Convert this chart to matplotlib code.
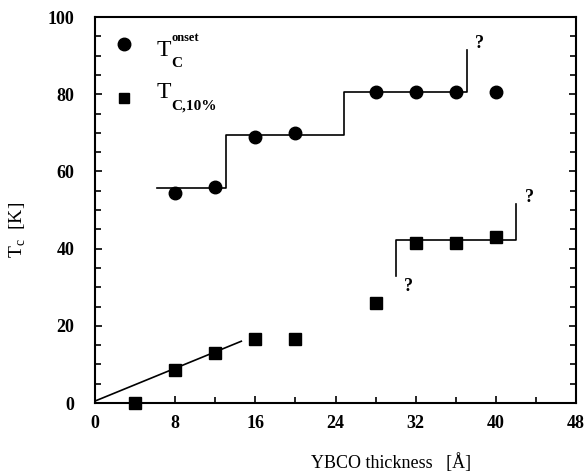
import matplotlib
matplotlib.use("Agg")
import matplotlib.pyplot as plt
from matplotlib.ticker import MultipleLocator

# Data
onset_x = [8, 12, 16, 20, 28, 32, 36, 40]
onset_y = [54.5, 56, 69, 70, 80.5, 80.5, 80.5, 80.5]
t10_x = [4, 8, 12, 16, 20, 28, 32, 36, 40]
t10_y = [0, 8.5, 13, 16.5, 16.5, 26, 41.5, 41.5, 43]

# guide lines
step1_x = [6.2, 13.1, 13.1, 24.8, 24.8, 37.1, 37.1]
step1_y = [55.6, 55.6, 69.5, 69.5, 80.5, 80.5, 91.5]
step2_x = [30.0, 30.0, 42.0, 42.0]
step2_y = [33.0, 42.2, 42.2, 51.5]
lin_x = [0, 14.6]
lin_y = [0.5, 16.0]

serif = "Liberation Serif"

fig = plt.figure(figsize=(5.85, 4.76), dpi=100)
ax = fig.add_axes([95/585, 1-403/476, (576-95)/585, (403-17)/476])

ax.plot(step1_x, step1_y, color="black", lw=1.2)
ax.plot(step2_x, step2_y, color="black", lw=1.2)
ax.plot(lin_x, lin_y, color="black", lw=1.2)
ax.plot(onset_x, onset_y, "o", color="black", ms=9, clip_on=False)
ax.plot(t10_x, t10_y, "s", color="black", ms=8, clip_on=False)

ax.text(38.4, 91.0, "?", fontfamily=serif, fontweight="bold", fontsize=13, ha="center", va="bottom")
ax.text(43.4, 51.0, "?", fontfamily=serif, fontweight="bold", fontsize=13, ha="center", va="bottom")
ax.text(31.3, 28.0, "?", fontfamily=serif, fontweight="bold", fontsize=13, ha="center", va="bottom")

# legend
ax.plot([2.9], [93], "o", color="black", ms=9)
ax.plot([2.9], [79], "s", color="black", ms=6.5)
ax.text(6.1, 89.8, r"T", fontfamily=serif, fontsize=17, va="baseline")
ax.text(7.6, 87.0, "C", fontfamily=serif, fontweight="bold", fontsize=11, va="baseline")
ax.text(7.6, 93.8, "onset", fontfamily=serif, fontweight="bold", fontsize=9, va="baseline")
ax.text(6.1, 79.0, r"T", fontfamily=serif, fontsize=17, va="baseline")
ax.text(7.6, 76.0, "C,10%", fontfamily=serif, fontweight="bold", fontsize=11, va="baseline")

ax.set_xlim(0, 48)
ax.set_ylim(0, 100)
ax.xaxis.set_major_locator(MultipleLocator(8))
ax.xaxis.set_minor_locator(MultipleLocator(4))
ax.yaxis.set_major_locator(MultipleLocator(20))
ax.yaxis.set_minor_locator(MultipleLocator(5))
ax.tick_params(which="both", direction="in", top=False, right=True, width=1.2)
ax.tick_params(which="major", length=5)
ax.tick_params(which="minor", length=4)
ax.tick_params(axis="x", which="major", pad=9)
ax.tick_params(axis="y", which="major", pad=15)
for lab in ax.get_xticklabels() + ax.get_yticklabels():
    lab.set_fontfamily(serif)
    lab.set_fontweight("bold")
    lab.set_fontsize(13)
for s in ax.spines.values():
    s.set_linewidth(1.5)

ax.set_xlabel("YBCO thickness   [Å]", fontfamily=serif, fontsize=13)
ax.xaxis.set_label_coords((391-95)/481, -(453-403)/386)
ax.set_ylabel(r"T$_\mathregular{c}$  [K]", fontfamily=serif, fontsize=14)
ax.yaxis.set_label_coords(-(95-28)/481, (403-230)/386)

fig.savefig("out.png", dpi=100)
